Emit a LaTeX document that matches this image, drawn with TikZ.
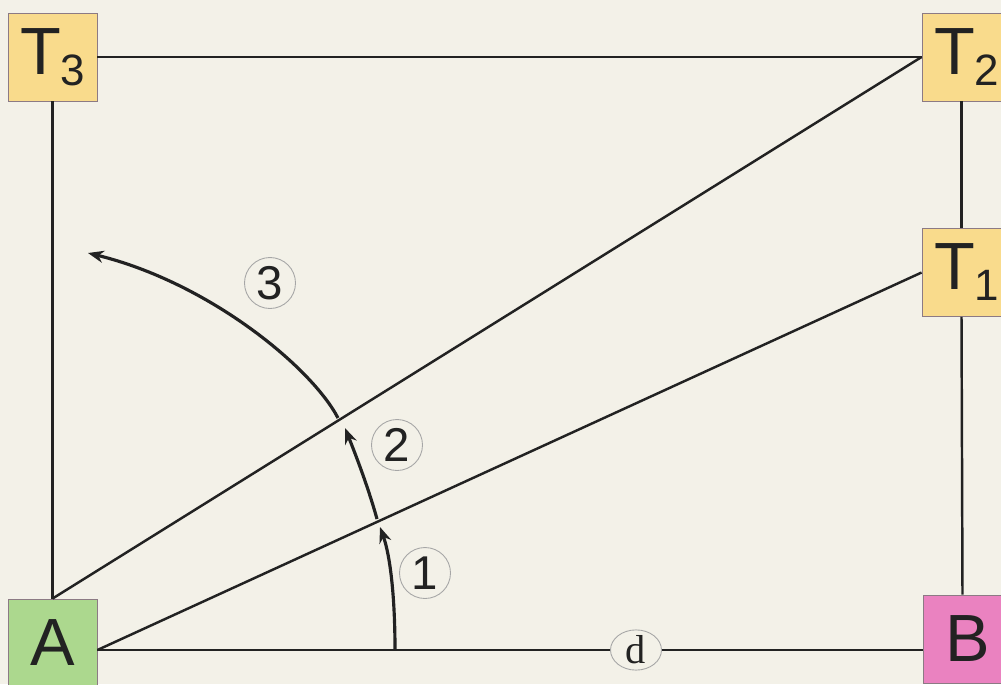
\documentclass[tikz,border=0pt]{standalone}
\usepackage{fontspec}
\setmainfont{Liberation Serif}
\setsansfont{Liberation Sans}
\usetikzlibrary{arrows.meta,shapes.geometric,positioning}
\definecolor{paper}{RGB}{243,241,232}
\definecolor{tower}{RGB}{249,219,140}
\definecolor{base}{RGB}{172,216,142}
\definecolor{target}{RGB}{234,130,192}
\definecolor{rim}{RGB}{140,122,132}
\definecolor{ink}{RGB}{34,34,34}
\newcommand{\tname}[1]{T\kern-0.5pt\raisebox{-0.22cm}{\fontsize{25}{25}\selectfont #1}}

\begin{document}
\begin{tikzpicture}[x=0.02cm,y=-0.02cm,
  station/.style={draw=rim,line width=0.5pt,minimum width=1.78cm,minimum height=1.76cm,
    inner sep=0pt,font=\sffamily\fontsize{38}{38}\selectfont,text=ink},
  num/.style={circle,draw=gray!70,line width=0.5pt,minimum size=1.02cm,inner sep=0pt,
    font=\sffamily\fontsize{27}{27}\selectfont,text=ink},
  link/.style={ink,line width=1.4pt},
  sweep/.style={ink,line width=1.8pt,-{Stealth[length=9pt,width=7pt]}}]
  \fill[paper] (0,0) rectangle (1001,684);
  \useasboundingbox (0,0) rectangle (1001,684);
  \clip (0,0) rectangle (1001,684);

  \node[station,fill=tower]  (t3) at (52.5,57)  {\tname{3}};
  \node[station,fill=tower]  (t2) at (966.5,57) {\tname{2}};
  \node[station,fill=tower]  (t1) at (966.5,272.5) {\tname{1}};
  \node[station,fill=base]   (a)  at (52.5,643) {A};
  \node[station,fill=target] (b)  at (967.5,639) {B};
  \node[ellipse,draw=gray!70,line width=0.5pt,minimum width=1.02cm,minimum height=0.7cm,
    inner sep=0pt,font=\fontsize{23}{23}\selectfont,text=ink] (d) at (636,650) {d};

  \draw[link] (t3.east) -- (t2.west);
  \draw[link] (t3.south) -- (a.north);
  \draw[link] ([xshift=-0.1cm]t2.south) -- ([xshift=-0.1cm]t1.north);
  \draw[link] ([xshift=-0.1cm]t1.south) -- ([xshift=-0.1cm]b.north);
  \draw[link] (a.east |- d) -- (d.west);
  \draw[link] (d.east) -- (b.west |- d);
  \draw[link] (a.north) -- (t2.west);
  \draw[link] (a.east |- d) -- (t1.west);

  \draw[sweep] (395,650) .. controls (395,595) and (390,555) .. (380,527);
  \draw[sweep] (377,519) .. controls (369,490) and (357,458) .. (345,428);
  \draw[sweep] (338,418) .. controls (312,368) and (210,283) .. (88,253);

  \node[num] (n1) at (425,573) {1};
  \node[num] (n2) at (397,445) {2};
  \node[num] (n3) at (270,283) {3};
\end{tikzpicture}
\end{document}
